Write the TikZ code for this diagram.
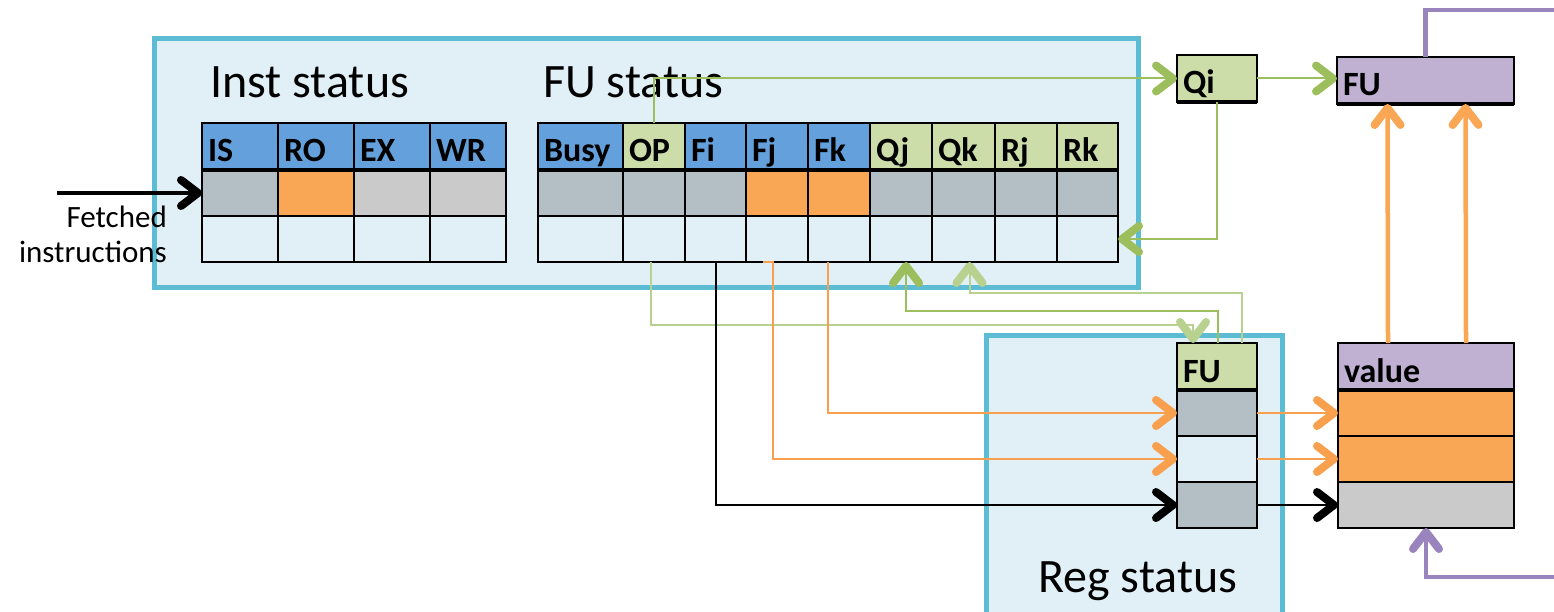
\documentclass[tikz,border=0pt]{standalone}
\usepackage{fontspec}
\setmainfont{Carlito}
\usetikzlibrary{arrows.meta}

\definecolor{panelfill}{HTML}{E1EFF7}
\definecolor{panelline}{HTML}{5CBCD4}
\definecolor{headblue}{HTML}{64A1DC}
\definecolor{headgreen}{HTML}{CDDDAA}
\definecolor{slate}{HTML}{B4BFC5}
\definecolor{silver}{HTML}{CACACA}
\definecolor{amber}{HTML}{F9A754}
\definecolor{lilac}{HTML}{C0B1D3}
\definecolor{plum}{HTML}{9A84BE}
\definecolor{leaf}{HTML}{9DBE5C}
\definecolor{paleleaf}{HTML}{B8D18E}
\definecolor{tangerine}{HTML}{F8A04E}

\tikzset{
  panel/.style={fill=panelfill, draw=panelline, line width=5pt},
  cell/.style={draw=black, line width=2pt, inner sep=0pt, outer sep=0pt,
    anchor=north west, minimum height=46pt},
  head/.style={cell, minimum height=47pt, align=left, inner xsep=6pt,
    text height=32pt, text depth=1pt, font=\bfseries\fontsize{34}{34}\selectfont},
  title/.style={anchor=base west, inner sep=0pt, font=\fontsize{48}{48}\selectfont},
  sep/.style={line width=4.5pt},
  wire/.style={line width=2pt,
    -{Straight Barb[length=17pt, width=26pt, line width=8pt, round]}},
  bigwire/.style={line width=4.5pt,
    -{Straight Barb[length=17pt, width=26pt, line width=8pt, round]}},
}

\begin{document}
\begin{tikzpicture}[x=1pt, y=-1pt]
\useasboundingbox (0,0) rectangle (1554,612);

% panels
\draw[panel] (154,39) rectangle (1138,287);
\draw[panel] (986,335) rectangle (1282,640);
\node[title] (tInst) at (210,98) {Inst status};
\node[title] (tFU) at (543,98) {FU status};
\node[title] (tReg) at (1038,592) {Reg status};

% instruction status table
\foreach \lbl/\x/\hc/\ca in {IS/202/headblue/slate, RO/278/headblue/amber,
    EX/354/headblue/silver, WR/430/headblue/silver} {
  \node[head, fill=\hc, text width=64pt] (h\lbl) at (\x,123) {\lbl};
  \node[cell, fill=\ca, minimum width=76pt] (a\lbl) at (h\lbl.south west) {};
  \node[cell, fill=panelfill, minimum width=76pt] (b\lbl) at (a\lbl.south west) {};
}
\draw[sep] (hIS.south west) -- (hWR.south east);

% functional unit status table
\foreach \lbl/\x/\w/\hc/\ca in {Busy/538/85/headblue/slate, OP/623/62/headgreen/slate,
    Fi/685/61/headblue/slate, Fj/746/62/headblue/amber, Fk/808/62/headblue/amber,
    Qj/870/62/headgreen/slate, Qk/932/63/headgreen/slate, Rj/995/62/headgreen/slate,
    Rk/1057/61/headgreen/slate} {
  \pgfmathsetmacro\tw{\w-12}
  \node[head, fill=\hc, text width=\tw pt] (h\lbl) at (\x,123) {\lbl};
  \node[cell, fill=\ca, minimum width=\w pt] (a\lbl) at (h\lbl.south west) {};
  \node[cell, fill=panelfill, minimum width=\w pt] (b\lbl) at (a\lbl.south west) {};
}
\draw[sep] (hBusy.south west) -- (hRk.south east);

% Qi and FU
\node[head, fill=headgreen, text width=68pt] (qi) at (1177,55) {Qi};
\draw[sep] (qi.south west) -- (qi.south east);
\node[head, fill=lilac, text width=165pt] (fu) at (1337,57) {FU};
\draw[sep] (fu.south west) -- (fu.south east);

% register status
\node[head, fill=headgreen, text width=68pt] (rFU) at (1177,343) {FU};
\node[cell, fill=slate, minimum width=80pt] (r1) at (rFU.south west) {};
\node[cell, fill=panelfill, minimum width=80pt] (r2) at (r1.south west) {};
\node[cell, fill=slate, minimum width=80pt] (r3) at (r2.south west) {};
\draw[sep] (rFU.south west) -- (rFU.south east);

% register values
\node[head, fill=lilac, text width=164pt] (vh) at (1338,343) {value};
\node[cell, fill=amber, minimum width=176pt] (v1) at (vh.south west) {};
\node[cell, fill=amber, minimum width=176pt] (v2) at (v1.south west) {};
\node[cell, fill=silver, minimum width=176pt] (v3) at (v2.south west) {};
\draw[sep] (vh.south west) -- (vh.south east);

% fetched instructions
\coordinate (fetch) at (57,193);
\node[align=right, anchor=east, inner sep=0pt, font=\fontsize{31}{35}\selectfont]
  (tFetch) at (167,234) {Fetched\\instructions};
\draw[bigwire, line width=4pt] (fetch) -- (aIS.west);

% green connectors
\draw[wire, leaf] (hOP.north) |- (qi.west);
\draw[wire, leaf] (qi.east) -- (qi.east -| fu.west);
\draw[wire, leaf] (qi.south) |- (bRk.east);
\draw[wire, paleleaf] ([xshift=-3pt]bOP.south) -- ++(0,63) -| ([xshift=-24pt]rFU.north);
\draw[wire, leaf] ([xshift=1pt]rFU.north) -- ++(0,-32) -| ([xshift=5pt]bQj.south);
\draw[wire, paleleaf] ([xshift=25pt]rFU.north) -- ++(0,-50) -| ([xshift=6pt]bQk.south);

% register links
\draw[wire, black] (bFi.south) |- (r3.west);
\draw[wire, tangerine] ([xshift=-14pt]bFj.south) -- ++(10,0) |- (r2.west);
\draw[wire, tangerine] ([xshift=-11pt]bFk.south) |- (r1.west);
\draw[wire, tangerine] (r1.east) -- (v1.west);
\draw[wire, tangerine] (r2.east) -- (v2.west);
\draw[wire, black] (r3.east) -- (v3.west);

% values to FU and back
\draw[bigwire, amber] ([xshift=-38pt]vh.north) -- ([xshift=-38pt]fu.south);
\draw[bigwire, amber] ([xshift=40pt]vh.north) -- ([xshift=40pt]fu.south);
\coordinate (outTop) at (1570,10);
\coordinate (outBot) at (1570,577);
\draw[line width=4.5pt, plum] (fu.north) |- (outTop);
\draw[bigwire, plum] (outBot) -| (v3.south);
\end{tikzpicture}
\end{document}
